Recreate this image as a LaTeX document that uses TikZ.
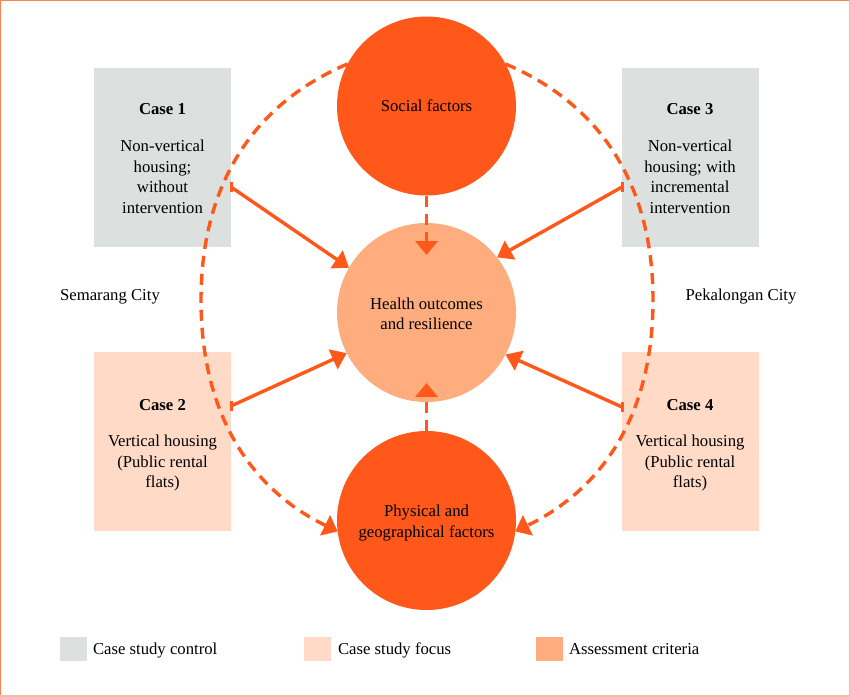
\documentclass[tikz,border=0pt]{standalone}
\usepackage{fontspec}
\setmainfont{Liberation Serif}
\usetikzlibrary{arrows.meta,calc}
\definecolor{hot}{RGB}{255,88,26}
\definecolor{healthc}{RGB}{255,173,127}
\definecolor{ctrl}{RGB}{220,224,223}
\definecolor{focus}{RGB}{255,218,198}
\definecolor{frameA}{RGB}{255,128,80}
\definecolor{frameB}{RGB}{255,184,160}
\begin{document}
\begin{tikzpicture}[x=1pt,y=-1pt,
  txt/.style={font=\fontsize{16.7}{20.5}\selectfont, align=center, inner sep=0pt, outer sep=0pt},
  title/.style={txt, font=\fontsize{16.7}{20.5}\selectfont\bfseries},
  casebox/.style={minimum width=137pt, minimum height=179pt, inner sep=0pt, outer sep=0pt},
  bigcirc/.style={circle, minimum size=179pt, inner sep=0pt, outer sep=0pt, txt},
  solidarrow/.style={draw=hot, line width=3.4pt, -{Triangle[length=15pt,width=21pt]}},
  dasharrow/.style={draw=hot, line width=3.4pt, dash pattern=on 11pt off 7pt, -{Triangle[length=14pt,width=22pt]}},
  barline/.style={draw=hot, line width=3pt},
  swatch/.style={minimum width=27pt, minimum height=24pt, inner sep=0pt, outer sep=0pt}
]
\useasboundingbox (0,0) rectangle (850,696);
\fill[white] (0,0) rectangle (850,696);
\draw[frameA, line width=2pt] (0,696) -- (0,0) -- (850,0);
\draw[frameB, line width=2pt] (850,0) -- (850,696) -- (0,696);

% case boxes
\node[casebox, fill=ctrl] (case1) at (162.5,157.5) {};
\node[casebox, fill=ctrl] (case3) at (690,157.5) {};
\node[casebox, fill=focus] (case2) at (162.5,441) {};
\node[casebox, fill=focus] (case4) at (690,441) {};

\node[title] (t1) at (162.5,109) {Case 1};
\node[txt] (b1) at (162.5,177) {Non-vertical\\housing;\\without\\intervention};
\node[title] (t3) at (690,109) {Case 3};
\node[txt] (b3) at (690,177) {Non-vertical\\housing; with\\incremental\\intervention};
\node[title] (t2) at (162.5,405) {Case 2};
\node[txt] (b2) at (162.5,463) {Vertical housing\\(Public rental\\flats)};
\node[title] (t4) at (690,405) {Case 4};
\node[txt] (b4) at (690,463) {Vertical housing\\(Public rental\\flats)};

% city labels
\node[txt] (sem) at (110,297) {Semarang City};
\node[txt] (pek) at (741,297) {Pekalongan City};

% circles
\node[bigcirc, fill=hot] (social) at (426.5,106) {};
\node[bigcirc, fill=healthc] (health) at (426.5,312.5) {};
\node[bigcirc, fill=hot] (phys) at (426.5,520.5) {};
\node[txt] (socialt) at (426.5,106) {Social factors};
\node[txt] (healtht) at (426.5,314) {Health outcomes\\and resilience};
\node[txt] (physt) at (426.5,523) {Physical and\\geographical factors};

% solid arrows
\coordinate (s1) at (231,187);
\coordinate (s3) at (622,187);
\coordinate (s2) at (231,406);
\coordinate (s4) at (622,407);
\draw[solidarrow] (s1) -- (health.150);
\draw[solidarrow] (s3) -- (health.38);
\draw[solidarrow] (s2) -- (health.207);
\draw[solidarrow] (s4) -- (health.332);
\foreach \c in {s1,s2,s3,s4} {
  \draw[barline] ([yshift=5pt]\c) -- ([yshift=-5pt]\c);
}

% dashed vertical arrows
\draw[dasharrow, shorten >=-32pt] (social) -- (health);
\draw[dasharrow, shorten >=-19pt] (phys) -- (health);

% dashed outer arcs
\coordinate (L) at (201,300);
\coordinate (R) at (653,300);
\draw[dasharrow] (social.152) to[out=203,in=90] (L) to[out=270,in=154] (phys.187);
\draw[dasharrow] (social.28) to[out=-23,in=90] (R) to[out=270,in=26] (phys.-7);

% legend
\node[swatch, fill=ctrl] (lg1) at (73.5,649) {};
\node[txt, anchor=base west] (lt1) at (93,654) {Case study control};
\node[swatch, fill=focus] (lg2) at (317,649) {};
\node[txt, anchor=base west] (lt2) at (338,654) {Case study focus};
\node[swatch, fill=healthc] (lg3) at (549.5,649) {};
\node[txt, anchor=base west] (lt3) at (569,654) {Assessment criteria};
\end{tikzpicture}
\end{document}
